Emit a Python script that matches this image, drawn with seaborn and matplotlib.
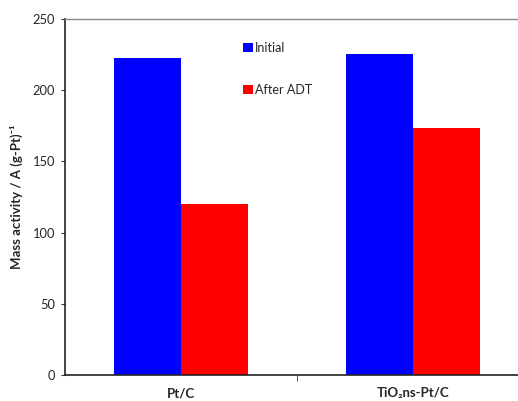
import pandas as pd
import matplotlib
matplotlib.use("Agg")
import matplotlib.pyplot as plt
import seaborn as sns

# === Data ===
catalysts = ["Pt/C", "TiO\u2082ns-Pt/C"]
conditions = ["Initial", "After ADT"]
initial = [222.5, 225.5]
after_adt = [120.0, 173.5]

df = pd.DataFrame({
    "catalyst": catalysts * 2,
    "condition": [conditions[0]] * 2 + [conditions[1]] * 2,
    "activity": initial + after_adt,
})

# === Setup ===
sns.set_style("white")
plt.rcParams["font.family"] = ["Lato", "DejaVu Sans"]

fig = plt.figure(figsize=(5.18, 4.01), dpi=100)
ax = fig.add_axes([65 / 518, 1 - 375 / 401, 464 / 518, (375 - 19) / 401])

sns.barplot(data=df, x="catalyst", y="activity", hue="condition",
            hue_order=conditions, order=catalysts,
            palette=["#0000FF", "#FF0000"], width=0.58, saturation=1,
            edgecolor="none", ax=ax)

ax.set_xlim(-0.5, 1.5)
ax.set_ylim(0, 250)
ax.set_yticks(range(0, 251, 50))
ax.tick_params(axis="y", labelsize=9.3, length=3, direction="out", left=True,
               color="#333333", pad=4)
ax.tick_params(axis="x", length=0, pad=9)
for lbl in ax.get_xticklabels():
    lbl.set_fontweight("bold")
    lbl.set_fontsize(9.5)
ax.set_xticks([0.5], minor=True)
ax.tick_params(axis="x", which="minor", length=4, bottom=True, color="#333333")

ax.set_xlabel("")
ax.set_ylabel("Mass activity / A (g-Pt)\u207b\u00b9", fontsize=9.5, fontweight="bold", labelpad=7)

for s in ["left", "bottom"]:
    ax.spines[s].set_color("#222222")
    ax.spines[s].set_linewidth(1.2)
ax.spines["top"].set_color("#888888")
ax.spines["top"].set_linewidth(1.0)
ax.spines["right"].set_visible(False)

ax.legend(loc="upper left", bbox_to_anchor=(0.372, 0.95), frameon=False,
          fontsize=9, handlelength=0.8, handleheight=0.8, handletextpad=0.2,
          labelspacing=2.4, borderaxespad=0)

fig.savefig("out.png", dpi=100)
